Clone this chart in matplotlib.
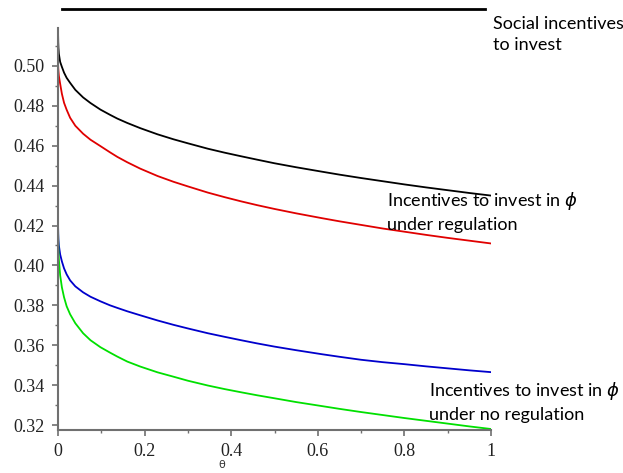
import matplotlib
matplotlib.use("Agg")
import matplotlib.pyplot as plt
from matplotlib.ticker import MultipleLocator

plt.rcParams["font.family"] = ["Liberation Serif", "DejaVu Sans"]

# values
theta = [0, 0.0005, 0.001, 0.002, 0.005, 0.009, 0.014, 0.02, 0.028, 0.04,
         0.058, 0.075, 0.098, 0.12, 0.137, 0.16, 0.19, 0.23, 0.267, 0.3,
         0.346, 0.385, 0.423, 0.46, 0.5, 0.55, 0.609, 0.65, 0.7, 0.75,
         0.8, 0.85, 0.9, 0.95, 1.0]
social = [0.519, 0.512, 0.509, 0.506, 0.502, 0.4995, 0.4966, 0.494, 0.4915, 0.488,
          0.4842, 0.4814, 0.4781, 0.4755, 0.4736, 0.4714, 0.4688, 0.4657, 0.4632, 0.4612,
          0.4585, 0.4565, 0.4547, 0.453, 0.4512, 0.4492, 0.447, 0.4455, 0.4438, 0.4422,
          0.4406, 0.4391, 0.4377, 0.4363, 0.435]
reg = [0.502, 0.499, 0.4975, 0.495, 0.491, 0.486, 0.4815, 0.478, 0.474, 0.470,
       0.466, 0.463, 0.4598, 0.4567, 0.4544, 0.4517, 0.4485, 0.4448, 0.4419, 0.4396,
       0.4365, 0.4342, 0.4321, 0.4302, 0.4283, 0.4261, 0.4237, 0.4221, 0.4203, 0.4185,
       0.4169, 0.4153, 0.4138, 0.4124, 0.411]
noreg_blue = [0.4225, 0.416, 0.413, 0.410, 0.4055, 0.402, 0.3985, 0.3955, 0.3925, 0.3895,
              0.3865, 0.3843, 0.382, 0.380, 0.3787, 0.377, 0.375, 0.3724, 0.3702, 0.3684,
              0.366, 0.3642, 0.3625, 0.3609, 0.3593, 0.3575, 0.3555, 0.3542, 0.3527, 0.3515,
              0.3505, 0.3494, 0.3484, 0.3474, 0.3465]
noreg_green = [0.4225, 0.412, 0.408, 0.403, 0.395, 0.389, 0.384, 0.3795, 0.3755, 0.371,
               0.366, 0.3625, 0.359, 0.3563, 0.3543, 0.3518, 0.3493, 0.3464, 0.3442, 0.3422,
               0.3398, 0.338, 0.3364, 0.3349, 0.3334, 0.3315, 0.3295, 0.3281, 0.3265, 0.325,
               0.3235, 0.3221, 0.3207, 0.3193, 0.318]
social_level = 0.5284

fig = plt.figure(figsize=(6.23, 4.73), dpi=100)
ax = fig.add_axes([58 / 623, 43 / 473, 433 / 623, 402 / 473])

ax.plot(theta, social, color="black", lw=1.3)
ax.plot(theta, reg, color="#e00000", lw=1.3)
ax.plot(theta, noreg_blue, color="#0000cc", lw=1.3)
ax.plot(theta, noreg_green, color="#00e000", lw=1.3)

# flat social line above the plot
ax.plot([0.009, 0.986], [social_level, social_level], color="black",
        lw=2.0, clip_on=False)

ax.set_xlim(0, 1)
ax.set_ylim(0.3175, 0.519)

for s in ["top", "right"]:
    ax.spines[s].set_visible(False)
for s in ["left", "bottom"]:
    ax.spines[s].set_color("#707070")
    ax.spines[s].set_linewidth(1.5)

ax.set_xticks([0, 0.2, 0.4, 0.6, 0.8, 1.0])
ax.set_xticklabels(["0", "0.2", "0.4", "0.6", "0.8", "1"])
ax.set_yticks([0.32, 0.34, 0.36, 0.38, 0.40, 0.42, 0.44, 0.46, 0.48, 0.50])
ax.set_yticklabels(["0.32", "0.34", "0.36", "0.38", "0.40", "0.42",
                    "0.44", "0.46", "0.48", "0.50"])
ax.xaxis.set_minor_locator(MultipleLocator(0.1))
ax.yaxis.set_minor_locator(MultipleLocator(0.01))
ax.tick_params(which="major", length=4.5, width=1.2, color="#707070", pad=5,
               labelsize=13, labelcolor="#222222")
ax.tick_params(which="minor", length=2.5, width=1.0, color="#707070")

fig.text(222 / 623, 1 - 465 / 473, "θ", family="DejaVu Sans", fontsize=8,
         ha="center", va="center", color="#333333")

lab_font = dict(family="Lato", fontsize=13, linespacing=1.4, color="black",
                ha="left", va="top")
fig.text(493 / 623, 1 - 16 / 473, "Social incentives\nto invest", **lab_font)
fig.text(387 / 623, 1 - 190 / 473,
         "Incentives to invest in $\\phi$\nunder regulation", **lab_font)
fig.text(429 / 623, 1 - 380 / 473,
         "Incentives to invest in $\\phi$\nunder no regulation", **lab_font)

fig.savefig("out.png", dpi=100)
